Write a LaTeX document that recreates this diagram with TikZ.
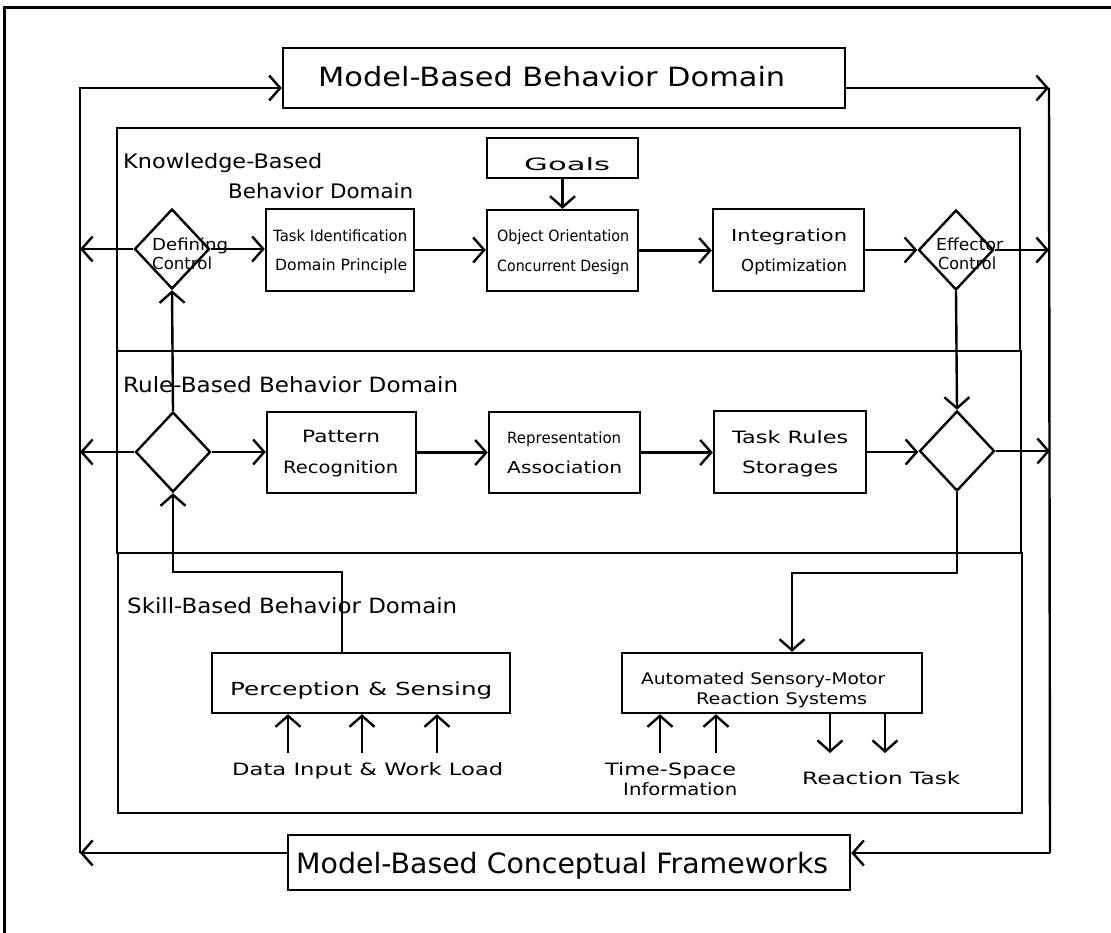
\documentclass[tikz,border=0pt]{standalone}
\usepackage{fontspec}
\usepackage{graphicx}
\setmainfont{DejaVu Sans}
\usetikzlibrary{arrows.meta,shapes.geometric}

% text of a given width (pt) and font size (pt), height kept
\newcommand{\fitw}[3]{\resizebox{#1pt}{\height}{\fontsize{#2pt}{#2pt}\selectfont #3}}

\tikzset{
  arr/.style={line width=2.4pt, -{Straight Barb[length=11pt,width=25pt,line width=2.4pt]}},
  ln/.style={line width=2.4pt},
  blk/.style={draw, line width=2.4pt, rectangle, inner sep=0pt},
  dom/.style={draw, line width=1.8pt},
  dia/.style={draw, line width=2.4pt, diamond, inner sep=0pt, minimum width=75pt, minimum height=80pt},
  txt/.style={inner sep=0pt, anchor=base west},
}

\begin{document}
\begin{tikzpicture}[x=1pt,y=-1pt]
\useasboundingbox (0,0) rectangle (1111,933);
\fill[white] (0,0) rectangle (1111,933);

% page frame
\draw[line width=3pt] (4,933) -- (4,8) -- (1111,8);

% domain panels
\draw[dom] (117,128) rectangle (1020,351);
\draw[dom] (117,351) rectangle (1021,553);
\draw[dom] (118,553) rectangle (1022,813);

% outer model boxes
\node[blk, minimum width=562pt, minimum height=60pt] (mbb) at (564,78) {};
\node[blk, minimum width=562pt, minimum height=55pt] (mbc) at (569,862.5) {};
\node[txt] (tmbb) at (318,87) {\fitw{467}{26.5}{Model-Based Behavior Domain}};
\node[txt] (tmbc) at (296,873) {\fitw{532}{28}{Model-Based Conceptual Frameworks}};

% domain titles
\node[txt] (tkb1) at (123,169) {\fitw{199}{20}{Knowledge-Based}};
\node[txt] (tkb2) at (228,199) {\fitw{185}{20}{Behavior Domain}};
\node[txt] (trb) at (123,392) {\fitw{335}{21}{Rule-Based Behavior Domain}};
\node[txt] (tsb) at (127,613) {\fitw{330}{21}{Skill-Based Behavior Domain}};

% knowledge-based row
\node[dia] (kd) at (172,249) {};
\node[blk, minimum width=148pt, minimum height=82pt] (tib) at (340,250) {};
\node[blk, minimum width=151pt, minimum height=40pt] (goals) at (562.5,158) {};
\node[blk, minimum width=151pt, minimum height=81pt] (oob) at (562.5,250.5) {};
\node[blk, minimum width=151pt, minimum height=82pt] (iob) at (788.5,250) {};
\node[dia] (ed) at (956,250) {};

\node[txt] (tdef) at (152,251) {\fitw{76}{16.5}{Defining}};
\node[txt] (tdc) at (152,270) {\fitw{60}{16.5}{Control}};
\node[txt] (ttask) at (273,242) {\fitw{134}{15.5}{Task Identification}};
\node[txt] (tdom) at (275,271) {\fitw{132}{15.5}{Domain Principle}};
\node[txt] (tgoal) at (524,171) {\fitw{86}{17}{Goals}};
\node[txt] (tobj) at (497,242) {\fitw{132}{15.5}{Object Orientation}};
\node[txt] (tcon) at (497,272) {\fitw{132}{15.5}{Concurrent Design}};
\node[txt] (tint) at (731,242) {\fitw{116}{16.5}{Integration}};
\node[txt] (topt) at (741,272) {\fitw{106}{16.5}{Optimization}};
\node[txt] (teff) at (936,251) {\fitw{67}{16.5}{Effector}};
\node[txt] (tec) at (938,270) {\fitw{58}{16.5}{Control}};

% rule-based row
\node[dia] (rd1) at (173,452) {};
\node[blk, minimum width=149pt, minimum height=81pt] (prb) at (341.5,452.5) {};
\node[blk, minimum width=151pt, minimum height=81pt] (rab) at (564.5,452.5) {};
\node[blk, minimum width=152pt, minimum height=82pt] (trs) at (790,452) {};
\node[dia] (rd2) at (957,451) {};

\node[txt] (tpat) at (302,442) {\fitw{78}{17}{Pattern}};
\node[txt] (trec) at (283,473) {\fitw{115}{17}{Recognition}};
\node[txt] (trep) at (507,443) {\fitw{114}{15.5}{Representation}};
\node[txt] (tass) at (507,473) {\fitw{115}{16.5}{Association}};
\node[txt] (ttr) at (732,443) {\fitw{116}{17}{Task Rules}};
\node[txt] (tsto) at (742,473) {\fitw{96}{17}{Storages}};

% skill-based row
\node[blk, minimum width=298pt, minimum height=60pt] (psb) at (361,683) {};
\node[blk, minimum width=300pt, minimum height=60pt] (asb) at (772,683) {};
\node[txt] (tper) at (230,695) {\fitw{262}{18}{Perception \& Sensing}};
\node[txt] (tdat) at (232,775) {\fitw{271}{17}{Data Input \& Work Load}};
\node[txt] (taut) at (641,684) {\fitw{244}{16}{Automated Sensory-Motor}};
\node[txt] (trsy) at (696,704) {\fitw{171}{16}{Reaction Systems}};
\node[txt] (ttim) at (605,775) {\fitw{131}{17}{Time-Space}};
\node[txt] (tinf) at (623,795) {\fitw{114}{17}{Information}};
\node[txt] (trta) at (802,784) {\fitw{158}{17}{Reaction Task}};

% free ends of the loop and of the input/output arrows
\coordinate (lu) at (80,88);
\coordinate (ll) at (80,853);
\coordinate (ru) at (1049,88);
\coordinate (rl) at (1050,853);
\coordinate (in1) at (288,753);
\coordinate (in2) at (362,753);
\coordinate (in3) at (437,753);
\coordinate (ts1) at (660,753);
\coordinate (ts2) at (716,753);
\coordinate (rt1) at (830,753);
\coordinate (rt2) at (885,753);

% outer loop between the two model boxes
\draw[arr] (ll) -- (lu) -- (mbb.west |- lu);
\draw[arr] (mbb.east |- ru) -- (ru);
\draw[ln] (ru) -- (rl);
\draw[arr] (rl) -- (mbc.east |- rl);
\draw[arr] (mbc.west |- ll) -- (ll);

% knowledge-based flow
\draw[arr] (kd.west) -- (kd.west -| lu);
\draw[arr] (kd.east) -- (kd.east -| tib.west);
\draw[arr] (tib.east) -- (tib.east -| oob.west);
\draw[arr] (goals.south) -- (oob.north);
\draw[arr] (oob.east) -- (oob.east -| iob.west);
\draw[arr] (iob.east) -- (iob.east -| ed.west);
\draw[arr] (ed.east) -- (ed.east -| ru);
\draw[arr] (ed.south) -- (rd2.north);
\draw[arr] (rd1.north) -- (kd.south);

% rule-based flow
\draw[arr] (rd1.west) -- (rd1.west -| ll);
\draw[arr] (rd1.east) -- (rd1.east -| prb.west);
\draw[arr] (prb.east) -- (prb.east -| rab.west);
\draw[arr] (rab.east) -- (rab.east -| trs.west);
\draw[arr] (trs.east) -- (trs.east -| rd2.west);
\draw[arr] (rd2.east) -- (rd2.east -| rl);

% skill-based flow
\draw[arr] ([xshift=-19pt]psb.north) -- ++(0,-80) -| (rd1.south);
\draw[arr] (rd2.south) -- ++(0,81) -| ([xshift=20pt]asb.north);
\draw[arr] (in1) -- (in1 |- psb.south);
\draw[arr] (in2) -- (in2 |- psb.south);
\draw[arr] (in3) -- (in3 |- psb.south);
\draw[arr] (ts1) -- (ts1 |- asb.south);
\draw[arr] (ts2) -- (ts2 |- asb.south);
\draw[arr] (rt1 |- asb.south) -- (rt1);
\draw[arr] (rt2 |- asb.south) -- (rt2);
\end{tikzpicture}
\end{document}
